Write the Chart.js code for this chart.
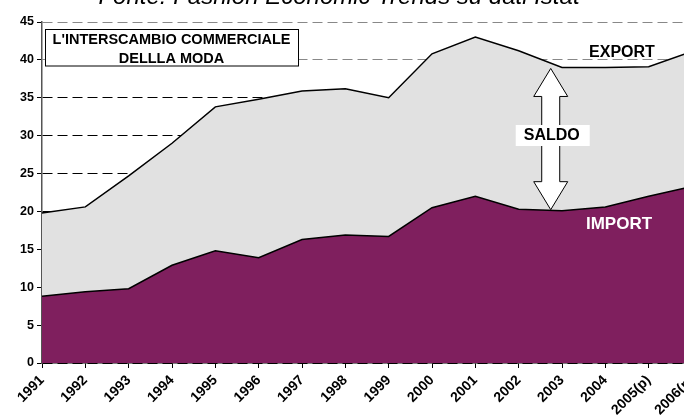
<!DOCTYPE html>
<html>
<head>
<meta charset="utf-8">
<script src="https://cdn.jsdelivr.net/npm/chart.js@4/dist/chart.umd.min.js"></script>
<style>
  html, body { margin: 0; padding: 0; background: #fff; overflow: hidden; }
  #wrap { width: 692px; height: 415px; }
</style>
</head>
<body>
<div id="wrap"><canvas id="myChart" width="692" height="415"></canvas></div>
<script>
// Years on the x axis
const years = ["1991", "1992", "1993", "1994", "1995", "1996", "1997", "1998",
  "1999", "2000", "2001", "2002", "2003", "2004", "2005(p)", "2006(p)"];

// Values (billions of euro)
const exportValues = [19.8, 20.6, 24.7, 29.0, 33.8, 34.8, 35.9, 36.2,
  35.0, 40.8, 43.0, 41.2, 39.0, 39.0, 39.1, 41.1];
const importValues = [8.8, 9.4, 9.8, 12.9, 14.8, 13.9, 16.3, 16.9,
  16.7, 20.5, 22.0, 20.3, 20.1, 20.6, 22.0, 23.3];

// Y axis range
const yMin = 0;
const yMax = 45;
const yStep = 5;

const FONT = "Arial, 'Liberation Sans', sans-serif";

// Draws the title, the box, the labels and the SALDO arrow
const extras = {
  id: "extras",
  afterDatasetsDraw(chart) {
    const ctx = chart.ctx;
    const x = chart.scales.x;
    const y = chart.scales.y;
    ctx.save();

    // title box
    const bx = x.left + 3, by = 29.5, bw = 253, bh = 36.5;
    ctx.fillStyle = "#fff";
    ctx.fillRect(bx, by, bw, bh);
    ctx.strokeStyle = "#000";
    ctx.lineWidth = 1;
    ctx.strokeRect(bx + 0.5, by, bw, bh);
    ctx.fillStyle = "#000";
    ctx.font = "bold 14.5px " + FONT;
    ctx.textAlign = "center";
    ctx.textBaseline = "middle";
    ctx.fillText("L'INTERSCAMBIO COMMERCIALE", bx + bw / 2, 39.5);
    ctx.fillText("DELLLA MODA", bx + bw / 2, 58.5);

    // SALDO arrow between export and import in 2003
    const step = x.getPixelForValue(12) - x.getPixelForValue(11);
    const ax = x.getPixelForValue(11) + 0.74 * step;
    const top = y.getPixelForValue(39.0) + 1;
    const bot = y.getPixelForValue(20.1) - 1;
    const head = 28, hw = 17, sw = 9;
    ctx.beginPath();
    ctx.moveTo(ax, top);
    ctx.lineTo(ax + hw, top + head);
    ctx.lineTo(ax + sw, top + head);
    ctx.lineTo(ax + sw, bot - head);
    ctx.lineTo(ax + hw, bot - head);
    ctx.lineTo(ax, bot);
    ctx.lineTo(ax - hw, bot - head);
    ctx.lineTo(ax - sw, bot - head);
    ctx.lineTo(ax - sw, top + head);
    ctx.lineTo(ax - hw, top + head);
    ctx.closePath();
    ctx.fillStyle = "#fff";
    ctx.fill();
    ctx.strokeStyle = "#000";
    ctx.lineWidth = 1;
    ctx.stroke();

    // SALDO label
    ctx.fillStyle = "#fff";
    ctx.fillRect(ax - 35, 125, 74, 21);
    ctx.fillStyle = "#000";
    ctx.font = "bold 16px " + FONT;
    ctx.fillText("SALDO", ax + 1, 136);

    // EXPORT / IMPORT labels
    ctx.fillText("EXPORT", 622, 53);
    ctx.fillStyle = "#fff";
    ctx.font = "bold 17px " + FONT;
    ctx.fillText("IMPORT", 619, 224);

    // source line, cut off at the top
    ctx.fillStyle = "#000";
    ctx.font = "italic 24px " + FONT;
    ctx.textBaseline = "alphabetic";
    ctx.fillText("Fonte: Fashion Economic Trends su dati Istat", 339, 4);
    ctx.restore();
  },
};

const ctx = document.getElementById("myChart").getContext("2d");

new Chart(ctx, {
  type: "line",
  data: {
    labels: years,
    datasets: [
      {
        label: "IMPORT",
        data: importValues,
        fill: "origin",
        backgroundColor: "#7f1f5e",
        borderColor: "#000",
        borderWidth: 1.5,
        pointRadius: 0,
        tension: 0,
      },
      {
        label: "EXPORT",
        data: exportValues,
        fill: "origin",
        backgroundColor: "#e1e1e1",
        borderColor: "#000",
        borderWidth: 1.5,
        pointRadius: 0,
        tension: 0,
      },
    ],
  },
  options: {
    responsive: false,
    animation: false,
    layout: { padding: { top: 22, right: 0, left: 0, bottom: 0 } },
    plugins: {
      legend: { display: false },
      tooltip: { enabled: false },
    },
    scales: {
      x: {
        offset: false,
        grid: {
          drawOnChartArea: false,
          tickLength: 5,
          tickColor: "#000",
        },
        border: { color: "#000", width: 1.5 },
        ticks: {
          autoSkip: false,
          minRotation: 45,
          maxRotation: 45,
          padding: 4,
          color: "#000",
          font: { family: FONT, size: 14, weight: "bold" },
        },
        afterFit(scale) {
          scale.height = 52;
          scale.paddingLeft = 0;
          scale.paddingRight = 0;
        },
      },
      y: {
        min: yMin,
        max: yMax,
        grid: {
          color: (c) => (c.tick && c.tick.value >= 40 ? "#888" : "#000"),
          lineWidth: 1,
          tickLength: 5,
          tickColor: "#000",
        },
        border: { color: "#555", width: 1.5, dash: [10, 5] },
        ticks: {
          stepSize: yStep,
          padding: 3,
          color: "#000",
          font: { family: FONT, size: 12.5, weight: "bold" },
        },
        afterFit(scale) {
          scale.width = 42;
          scale.paddingTop = 0;
          scale.paddingBottom = 0;
        },
      },
    },
  },
  plugins: [extras],
});
</script>
</body>
</html>
